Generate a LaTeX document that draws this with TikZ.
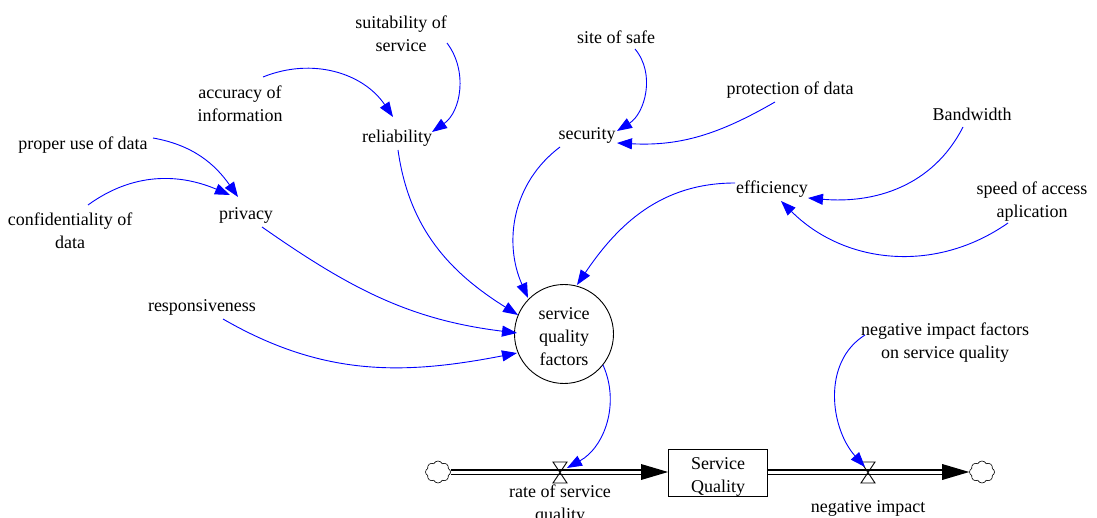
\documentclass[tikz,border=0pt]{standalone}
\usepackage{fontspec}
\setmainfont{Liberation Serif}
\usetikzlibrary{arrows.meta,shapes.symbols}
\begin{document}
\begin{tikzpicture}[x=1pt,y=1pt,
  lbl/.style={font=\fontsize{18}{23}\selectfont, align=center, inner sep=0pt},
  conn/.style={draw=blue, line width=0.9pt, -{Triangle[length=15pt,width=11pt]}},
  pipe/.style={draw=black, line width=1.3pt, double=white, double distance=3pt},
  flowtip/.style={fill=black},
  valvestyle/.style={draw=black, line width=0.9pt, line join=miter},
  cloudstyle/.style={cloud, draw=black, cloud puffs=8, cloud puff arc=130, aspect=1.1, minimum width=25pt, minimum height=22pt, inner sep=0pt, line width=0.6pt}
]
\useasboundingbox (0,0) rectangle (1097,-518);
\fill[white] (0,0) rectangle (1097,-518);

% variables
\node[lbl] (suit) at (401,-33.5) {suitability of\\service};
\node[lbl] (acc) at (240,-103.5) {accuracy of\\information};
\node[lbl] (rel) at (397,-138.5) {reliability};
\node[lbl] (site) at (616,-37.5) {site of safe};
\node[lbl] (prot) at (790,-90.5) {protection of data};
\node[lbl] (sec) at (587,-135.5) {security};
\node[lbl] (band) at (972,-114.5) {Bandwidth};
\node[lbl] (speed) at (1032,-201.5) {speed of access\\aplication};
\node[lbl] (eff) at (772,-189.5) {efficiency};
\node[lbl] (proper) at (83,-145.5) {proper use of data};
\node[lbl] (conf) at (70,-230.5) {confidentiality of\\data};
\node[lbl] (priv) at (246,-215.5) {privacy};
\node[lbl] (resp) at (202,-307.5) {responsiveness};
\node[draw, circle, minimum size=99pt, inner sep=0pt, line width=0.9pt] (sqf) at (564,-334) {};
\node[lbl] (sqft) at ([yshift=-2.5pt]sqf.center) {service\\quality\\factors};
\node[lbl] (neg) at (945,-342.5) {negative impact factors\\on service quality};

% stock and flows
\node[cloudstyle] (cl) at (438,-472) {};
\node[draw, rectangle, minimum width=99pt, minimum height=47pt, inner sep=0pt, line width=0.9pt] (stock) at (718,-473) {};
\node[lbl] (stockt) at ([yshift=-3.5pt]stock.center) {Service\\Quality};
\node[cloudstyle] (cr) at (982,-472) {};
\coordinate (v1) at (560,-472);
\coordinate (v2) at (868,-472);

\draw[pipe] (cl.east) -- ([xshift=-26pt,yshift=1pt]stock.west);
\fill[flowtip] ([xshift=-27pt,yshift=9pt]stock.west) -- ([yshift=1pt]stock.west) -- ([xshift=-27pt,yshift=-7pt]stock.west) -- cycle;
\draw[pipe] ([yshift=1pt]stock.east) -- ([xshift=-26pt]cr.west);
\fill[flowtip] ([xshift=-27pt,yshift=8pt]cr.west) -- (cr.west) -- ([xshift=-27pt,yshift=-8pt]cr.west) -- cycle;

\draw[valvestyle] ([shift={(-7,10)}]v1) -- ([shift={(7,10)}]v1) -- ([shift={(-7,-11)}]v1) -- ([shift={(7,-11)}]v1) -- cycle;
\draw[valvestyle] ([shift={(-7,10)}]v2) -- ([shift={(7,10)}]v2) -- ([shift={(-7,-11)}]v2) -- ([shift={(7,-11)}]v2) -- cycle;

\node[lbl, anchor=north] (v1l) at (560,-485) {rate of service\\quality};
\node[lbl] (v2l) at (868,-508) {negative impact};

% connectors
\draw[conn] ([shift={(23,26.5)}]acc.center) to[out=22,in=124] ([shift={(-4,21.5)}]rel.center);
\draw[conn] ([shift={(46,-9.5)}]suit.center) to[out=-53,in=35] ([shift={(35,6.5)}]rel.center);
\draw[conn] ([shift={(19,-11.5)}]site.center) to[out=-50,in=32] ([shift={(30,4.5)}]sec.center);
\draw[conn] ([shift={(-15,-11.5)}]prot.center) to[out=-150,in=-3] ([shift={(30,-7.5)}]sec.center);
\draw[conn] ([shift={(-9,-12.5)}]band.center) to[out=-117,in=-5] ([shift={(36,-8.5)}]eff.center);
\draw[conn] ([shift={(-24,-21.5)}]speed.center) to[out=-145,in=-45] ([shift={(9,-11.5)}]eff.center);
\draw[conn] ([shift={(70,7.5)}]proper.center) to[out=-10,in=125] ([shift={(-8,18.5)}]priv.center);
\draw[conn] ([shift={(18,25.5)}]conf.center) to[out=36,in=157] ([shift={(-16,20.5)}]priv.center);
\draw[conn] ([shift={(16,-11.5)}]priv.center) to[out=-35,in=173] ([shift={(-47,1)}]sqf.center);
\draw[conn] ([shift={(21,-11.5)}]resp.center) to[out=-30,in=-169] ([shift={(-47,-19)}]sqf.center);
\draw[conn] ([shift={(1,-11.5)}]rel.center) to[out=-82,in=148] ([shift={(-46,19)}]sqf.center);
\draw[conn] ([shift={(-27,-11.5)}]sec.center) to[out=-143,in=114] ([shift={(-36,36)}]sqf.center);
\draw[conn] ([shift={(-37,6.5)}]eff.center) to[out=180,in=56] ([shift={(13,49)}]sqf.center);
\draw[conn] ([shift={(39,-31)}]sqf.center) to[out=-66,in=29] ([shift={(7,4)}]v1);
\draw[conn] ([shift={(-80,7.5)}]neg.center) to[out=-148,in=132] ([shift={(-3,5)}]v2);
\end{tikzpicture}
\end{document}
